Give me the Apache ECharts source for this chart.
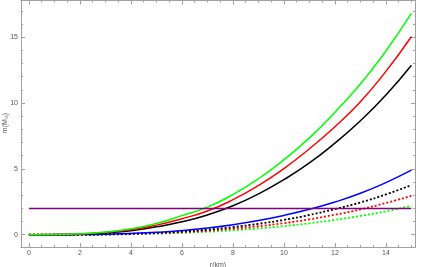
<!DOCTYPE html>
<html>
<head>
<meta charset="utf-8">
<script src="https://cdn.jsdelivr.net/npm/echarts@6/dist/echarts.min.js"></script>
<style>html,body{margin:0;padding:0;background:#fff}#c{width:421px;height:267px}</style>
</head>
<body>
<div id="c"></div>
<script>
// radius values (km)
const radius = [0,1,2,3,4,5,6,7,8,9,10,11,12,13,14,15];
// solid curves
const greenSolid = [0,0.01,0.07,0.21,0.45,0.86,1.45,2.1,3.05,4.25,5.7,7.35,9.3,11.45,13.95,16.8];
const redSolid   = [0,0.01,0.06,0.18,0.38,0.73,1.22,1.8,2.66,3.74,5.02,6.53,8.2,10.1,12.4,15.05];
const blackSolid = [0,0.01,0.04,0.14,0.31,0.6,0.98,1.5,2.2,3.1,4.18,5.45,6.95,8.65,10.6,12.86];
const blueSolid  = [0,0.002,0.012,0.04,0.095,0.185,0.32,0.51,0.76,1.08,1.47,1.93,2.48,3.15,3.96,4.9];
// dotted curves
const blackDotted = [0,0.001,0.01,0.032,0.076,0.145,0.25,0.39,0.58,0.83,1.13,1.5,1.95,2.45,3.06,3.77];
const redDotted   = [0,0.001,0.007,0.025,0.058,0.112,0.193,0.305,0.455,0.645,0.88,1.17,1.52,1.92,2.41,2.95];
const greenDotted = [0,0.001,0.005,0.018,0.043,0.082,0.142,0.226,0.336,0.478,0.655,0.87,1.13,1.43,1.78,2.2];
// horizontal reference line
const refLine = [2,2];
const refRange = [0,15];
// ticks
const xTickLabels = [0,2,4,6,8,10,12,14];
const yTickLabels = [0,5,10,15];

const xMinor = []; for (let v = 0; v <= 15; v += 0.5) xMinor.push(v);
const yMinor = []; for (let v = 0; v <= 17; v += 1) yMinor.push(v);

const XMIN = -0.31, XMAX = 15.14, YMIN = -0.93, YMAX = 17.78;
const frameColor = '#a0a0a0';
const labelColor = '#555';
const font = 'Liberation Sans';

function pairs(ys){ return radius.map((r,i)=>[r, ys[i]]); }

function xAx(pos, custom, len, labels){
  return {type:'value', position:pos, offset:0, min:XMIN, max:XMAX, gridIndex:0,
    axisLine:{show:true, onZero:false, lineStyle:{color:frameColor, width:1}},
    axisTick:{show:true, inside:true, length:len, customValues:custom, lineStyle:{color:frameColor}},
    axisLabel:{show:labels, customValues:xTickLabels, color:labelColor, fontSize:7, fontFamily:font, margin:3},
    splitLine:{show:false}, minorTick:{show:false},
    name: (labels ? 'r(km)' : ''), nameLocation:'middle', nameGap:12,
    nameTextStyle:{color:labelColor, fontSize:7, fontFamily:font}};
}
function yAx(pos, custom, len, labels){
  return {type:'value', position:pos, offset:0, min:YMIN, max:YMAX, gridIndex:0,
    axisLine:{show:true, onZero:false, lineStyle:{color:frameColor, width:1}},
    axisTick:{show:true, inside:true, length:len, customValues:custom, lineStyle:{color:frameColor}},
    axisLabel:{show:labels, customValues:yTickLabels, color:labelColor, fontSize:7, fontFamily:font, margin:3},
    splitLine:{show:false}, minorTick:{show:false}};
}

function line(ys, color, dotted){
  return {type:'line', data:pairs(ys), showSymbol:false, smooth:true, xAxisIndex:0, yAxisIndex:0,
    lineStyle:{color:color, width: dotted ? 1.8 : 1.5, type: dotted ? [2,2] : 'solid'}, z: dotted?3:4, silent:true};
}

const chart = echarts.init(document.getElementById('c'), null, {renderer:'canvas'});
chart.setOption({
  animation:false,
  backgroundColor:'#fff',
  grid:{left:21, right:6, top:0.5, bottom:20, containLabel:false, outerBoundsMode:'none'},
  graphic:[{
    type:'text', x:1, y:123, rotation:Math.PI/2, silent:true,
    style:{text:'m(M{s|⊙})', fill:labelColor, fontSize:7, fontFamily:font, align:'center', verticalAlign:'top',
      rich:{s:{fontSize:5, fill:labelColor, fontFamily:font, padding:[3,0,0,0]}}}
  }],
  xAxis:[
    xAx('bottom', xTickLabels, 4, true),
    xAx('bottom', xMinor, 2, false),
    xAx('top', xTickLabels, 4, false),
    xAx('top', xMinor, 2, false)
  ],
  yAxis:[
    yAx('left', yTickLabels, 4, true),
    yAx('left', yMinor, 2, false),
    yAx('right', yTickLabels, 4, false),
    yAx('right', yMinor, 2, false)
  ],
  series:[
    line(greenDotted, '#00ff00', true),
    line(redDotted, '#ff0000', true),
    line(blackDotted, '#000000', true),
    line(blueSolid, '#0000ff', false),
    line(blackSolid, '#000000', false),
    line(redSolid, '#ff0000', false),
    line(greenSolid, '#00ff00', false),
    {type:'line', data: refRange.map((r,i)=>[r, refLine[i]]), showSymbol:false, xAxisIndex:0, yAxisIndex:0,
      lineStyle:{color:'#800080', width:1.5}, z:5, silent:true}
  ]
});
</script>
</body>
</html>
